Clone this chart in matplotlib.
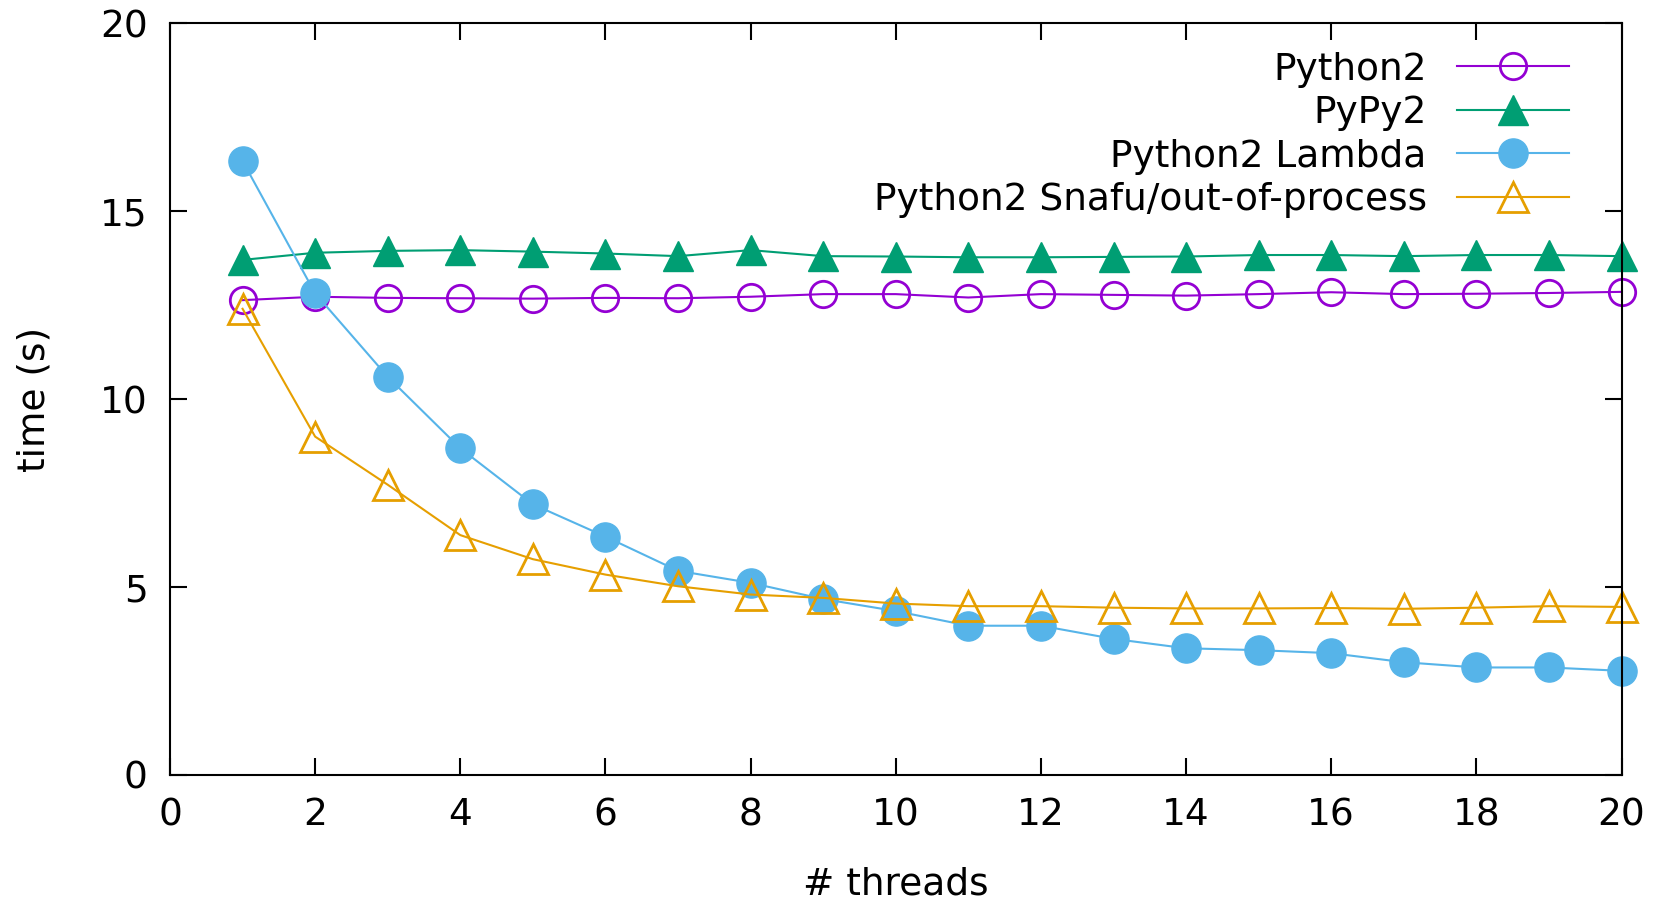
import numpy as np
import matplotlib
matplotlib.use("Agg")
import matplotlib.pyplot as plt

threads = list(range(1, 21))

python2 = [12.63, 12.72, 12.69, 12.68, 12.67, 12.69, 12.68, 12.72, 12.79, 12.79,
           12.70, 12.79, 12.77, 12.75, 12.79, 12.84, 12.79, 12.80, 12.82, 12.85]
pypy2 = [13.70, 13.89, 13.94, 13.96, 13.92, 13.87, 13.80, 13.96, 13.80, 13.79,
         13.77, 13.77, 13.78, 13.79, 13.83, 13.83, 13.80, 13.83, 13.83, 13.80]
python2_lambda = [16.33, 12.81, 10.59, 8.69, 7.20, 6.34, 5.43, 5.11, 4.68, 4.36,
                  3.97, 3.97, 3.62, 3.37, 3.32, 3.24, 3.00, 2.86, 2.86, 2.77]
python2_snafu = [12.40, 9.00, 7.72, 6.38, 5.74, 5.33, 5.02, 4.80, 4.71, 4.56,
                 4.49, 4.49, 4.45, 4.43, 4.43, 4.44, 4.42, 4.45, 4.49, 4.47]

labels = ["Python2", "PyPy2", "Python2 Lambda", "Python2 Snafu/out-of-process"]
x_ticks = [0, 2, 4, 6, 8, 10, 12, 14, 16, 18, 20]
y_ticks = [0, 5, 10, 15, 20]

plt.rcParams['font.family'] = ['DejaVu Sans']
fig = plt.figure(figsize=(16.65, 9), dpi=100)
ax = fig.add_axes([0.1021, 0.1389, 0.9739 - 0.1021, 0.9744 - 0.1389])

lw = 1.5
fs = 27
ax.plot(threads, python2, color="#9400d3", lw=lw, marker="o", ms=19,
        mfc="none", mec="#9400d3", mew=2, label=labels[0], clip_on=False)
ax.plot(threads, pypy2, color="#009e73", lw=lw, marker="^", ms=21,
        mfc="#009e73", mec="#009e73", label=labels[1], clip_on=False)
ax.plot(threads, python2_lambda, color="#56b4e9", lw=lw, marker="o", ms=21,
        mfc="#56b4e9", mec="#56b4e9", label=labels[2], clip_on=False)
ax.plot(threads, python2_snafu, color="#e69f00", lw=lw, marker="^", ms=21,
        mfc="none", mec="#e69f00", mew=2, label=labels[3], clip_on=False)

ax.set_xlim(0, 20)
ax.set_ylim(0, 20)
ax.set_xticks(x_ticks)
ax.set_yticks(y_ticks)
ax.tick_params(direction="in", length=12, width=1.5, labelsize=fs,
               top=True, right=True, pad=16)
for s in ax.spines.values():
    s.set_linewidth(1.5)

ax.set_xlabel("# threads", fontsize=fs, labelpad=24)
ax.set_ylabel("time (s)", fontsize=fs, labelpad=34)

leg = ax.legend(loc="upper right", frameon=False, fontsize=fs, markerfirst=False,
                handlelength=3.0, labelspacing=0.2, borderaxespad=0.3,
                bbox_to_anchor=(0.982, 0.997))
for t in leg.get_texts():
    t.set_ha("right")

fig.savefig("out.png", dpi=100)
